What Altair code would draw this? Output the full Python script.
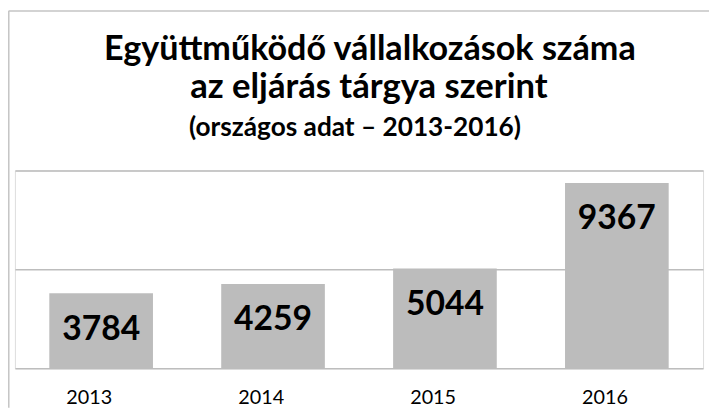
import altair as alt
import pandas as pd

years = ["2013", "2014", "2015", "2016"]
counts = [3784, 4259, 5044, 9367]
title_line1 = "Együttműködő vállalkozások száma"
title_line2 = "az eljárás tárgya szerint"
subtitle = "(országos adat – 2013-2016)"

df = pd.DataFrame({"year": years, "count": counts})
FONT = "Lato"
W, H = 696, 200

x_enc = alt.X(
    "year:N",
    sort=years,
    scale=alt.Scale(paddingInner=0.397, paddingOuter=0.2),
    axis=alt.Axis(
        title=None, ticks=False, domain=False, labelAngle=0,
        labelFont=FONT, labelFontSize=20, labelColor="black",
        labelPadding=20, labelOffset=-12,
    ),
)
y_enc = alt.Y(
    "count:Q",
    scale=alt.Scale(domain=[0, 10000]),
    axis=alt.Axis(
        title=None, labels=False, ticks=False, domain=False,
        values=[0, 5000, 10000], grid=True,
        gridColor="#bdbdbd", gridWidth=1.5,
    ),
)

base = alt.Chart(df).encode(x=x_enc)
bars = base.mark_bar(color="#bcbcbc").encode(y=y_enc)
labels = base.mark_text(
    baseline="top", dy=20, font=FONT, fontSize=34, fontWeight="bold", color="black"
).encode(y=alt.Y("count:Q"), text=alt.Text("count:Q", format="d"))

one = pd.DataFrame({"a": [0]})


def title_text(txt, x, y, size):
    return alt.Chart(one).mark_text(
        font=FONT, fontSize=size, fontWeight="bold", color="black",
        align="center", baseline="alphabetic",
    ).encode(x=alt.value(x), y=alt.value(y), text=alt.value(txt))


t1 = title_text(title_line1, 359, -112, 34.5)
t2 = title_text(title_line2, 358, -73, 35)
t3 = title_text(subtitle, 344, -35, 26.5)

frame_left = alt.Chart(one).mark_rule(color="#c4c4c4", strokeWidth=1.5).encode(
    x=alt.value(-6.2), y=alt.value(-161.5), y2=alt.value(H + 40)
)
frame_top = alt.Chart(one).mark_rule(color="#c4c4c4", strokeWidth=1.5).encode(
    x=alt.value(-6.2), x2=alt.value(W + 6), y=alt.value(-161.2)
)

chart = alt.layer(frame_left, frame_top, bars, labels, t1, t2, t3).properties(
    width=W,
    height=H,
    autosize=alt.AutoSizeParams(type="none"),
    padding={"left": 7, "top": 162, "right": 6, "bottom": 40},
).configure_view(stroke=None).configure(background="white")

chart.save("out.html", embed_options={"renderer": "svg", "actions": False})
